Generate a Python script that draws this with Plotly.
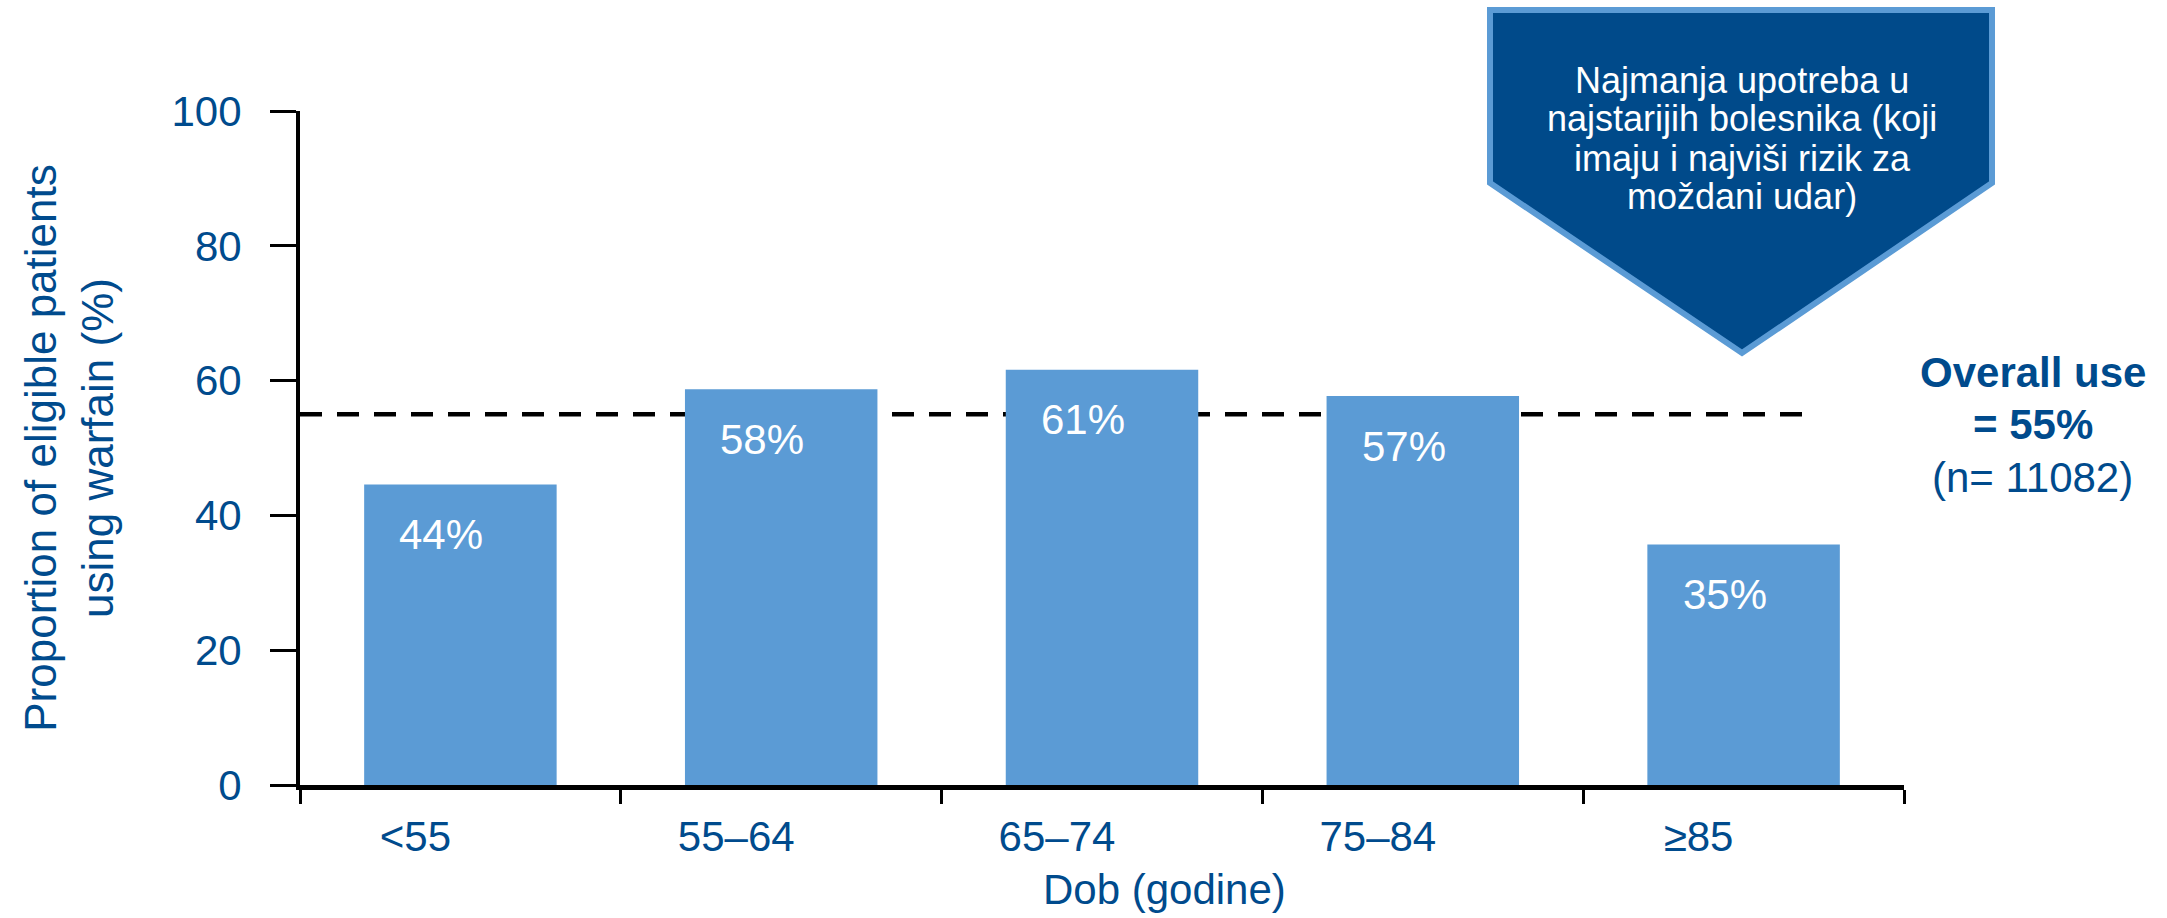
import plotly.graph_objects as go

# ---- data ----
categories = ["<55", "55–64", "65–74", "75–84", "≥85"]
warfarin_use = [44.6, 58.7, 61.6, 57.7, 35.7]
bar_labels = ["44%", "58%", "61%", "57%", "35%"]
overall_use = 55
y_ticks = [0, 20, 40, 60, 80, 100]
callout_lines = ["Najmanja upotreba u", "najstarijih bolesnika (koji",
                 "imaju i najviši rizik za", "moždani udar)"]
overall_lines = ["<b>Overall use</b>", "<b>= 55%</b>", "(n= 11082)"]

FONT = "Arial, Liberation Sans, sans-serif"
BLUE_TXT = "#004B8D"
BAR = "#5B9BD5"

W, H = 2167, 918
L, R, T, B = 300, 263, 111, 133
pw, ph = W - L - R, H - T - B

def px(xp):
    return (xp - L) / pw

def py(yp):
    return (H - B - yp) / ph

fig = go.Figure()
fig.add_trace(go.Bar(x=categories, y=warfarin_use, width=0.6, marker=dict(color=BAR, line=dict(width=0)),
                     showlegend=False, hoverinfo="skip"))

# dashed overall line (behind bars)
fig.add_shape(type="line", xref="x", yref="y", x0=-0.5, x1=4.21, y0=overall_use, y1=overall_use,
              line=dict(color="black", width=4.5, dash="22px,15px"), layer="below")

annotations = []
for c, v, t in zip(categories, warfarin_use, bar_labels):
    annotations.append(dict(x=c, y=v, xref="x", yref="y", text=t, showarrow=False,
                            xshift=-19, yshift=-50, font=dict(family=FONT, size=42, color="white")))

# callout pentagon
path = (f"M {px(1490)},{py(10)} L {px(1992)},{py(10)} L {px(1992)},{py(183)} "
        f"L {px(1742)},{py(353)} L {px(1490)},{py(183)} Z")
fig.add_shape(type="path", xref="paper", yref="paper", path=path,
              fillcolor="#004A8A", line=dict(color=BAR, width=6), layer="above")
for k, line in enumerate(callout_lines):
    annotations.append(dict(x=px(1742), y=py(80 + 39 * k), xref="paper", yref="paper", text=line,
                            showarrow=False, xanchor="center", yanchor="middle",
                            font=dict(family=FONT, size=36, color="white")))

for k, line in enumerate(overall_lines):
    annotations.append(dict(x=px(2033), y=py(372 + 52.5 * k), xref="paper", yref="paper", text=line,
                            showarrow=False, xanchor="center", yanchor="middle",
                            font=dict(family=FONT, size=42, color=BLUE_TXT)))

# x axis title
annotations.append(dict(x=px(1164), y=py(889), xref="paper", yref="paper", text="Dob (godine)",
                        showarrow=False, xanchor="center", yanchor="middle",
                        font=dict(family=FONT, size=42, color=BLUE_TXT)))

fig.update_layout(
    width=W, height=H,
    margin=dict(l=L, r=R, t=T, b=B, autoexpand=False),
    paper_bgcolor="white", plot_bgcolor="white",
    annotations=annotations,
    xaxis=dict(type="category", range=[-0.5, 4.5], tickson="boundaries",
               showgrid=False, zeroline=False, showline=True, linecolor="black", linewidth=4.5,
               ticks="outside", ticklen=14, tickwidth=3, tickcolor="black",
               ticklabelshift=-45, ticklabelstandoff=11,
               tickfont=dict(family=FONT, size=42, color=BLUE_TXT), fixedrange=True),
    yaxis=dict(range=[0, 100], tickvals=y_ticks, showgrid=False, zeroline=False,
               showline=True, linecolor="black", linewidth=4, ticks="outside", ticklen=26,
               tickwidth=3, tickcolor="black", ticklabelstandoff=20,
               tickfont=dict(family=FONT, size=42, color=BLUE_TXT),
               title=dict(text="Proportion of eligible patients<br>using warfain (%)",
                          font=dict(family=FONT, size=44, color=BLUE_TXT), standoff=45),
               fixedrange=True),
)

fig.write_html("out.html")
